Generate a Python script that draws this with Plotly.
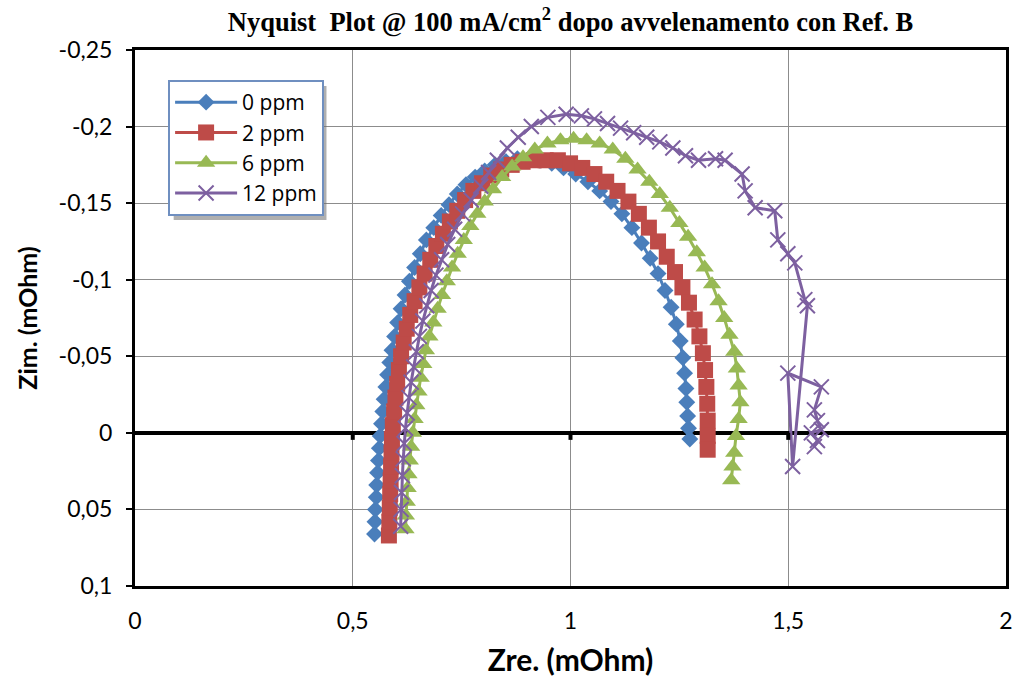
import plotly.graph_objects as go

# ---------------- data (Zre, Zim in mOhm) ----------------
zre_0ppm = [0.550, 0.551, 0.552, 0.554, 0.555, 0.557, 0.559, 0.561, 0.563, 0.566,
            0.569, 0.572, 0.576, 0.580, 0.585, 0.590, 0.596, 0.603, 0.611, 0.620,
            0.630, 0.642, 0.655, 0.669, 0.686, 0.703, 0.721, 0.740, 0.760, 0.781,
            0.803, 0.827, 0.852, 0.878, 0.904, 0.930, 0.957, 0.984, 1.012, 1.040,
            1.067, 1.093, 1.118, 1.141, 1.163, 1.183, 1.201, 1.217, 1.231, 1.243,
            1.252, 1.258, 1.262, 1.265, 1.267, 1.269, 1.271, 1.274]
zim_0ppm = [0.066, 0.058, 0.050, 0.042, 0.034, 0.026, 0.018, 0.010, 0.002, -0.006,
            -0.014, -0.022, -0.030, -0.038, -0.046, -0.054, -0.063, -0.072, -0.081, -0.090,
            -0.099, -0.108, -0.117, -0.126, -0.134, -0.142, -0.149, -0.156, -0.162, -0.167,
            -0.171, -0.175, -0.177, -0.179, -0.179, -0.178, -0.176, -0.173, -0.169, -0.164,
            -0.158, -0.151, -0.143, -0.134, -0.124, -0.114, -0.104, -0.093, -0.082, -0.071,
            -0.060, -0.049, -0.039, -0.029, -0.020, -0.011, -0.003, 0.004]

zre_2ppm = [0.583, 0.584, 0.585, 0.586, 0.587, 0.588, 0.589, 0.590, 0.592, 0.595,
            0.598, 0.602, 0.606, 0.611, 0.617, 0.624, 0.632, 0.642, 0.653, 0.665,
            0.678, 0.692, 0.707, 0.723, 0.740, 0.758, 0.777, 0.797, 0.818, 0.841,
            0.865, 0.890, 0.916, 0.943, 0.971, 0.999, 1.027, 1.055, 1.082, 1.108,
            1.133, 1.157, 1.180, 1.201, 1.221, 1.240, 1.257, 1.272, 1.285, 1.296,
            1.304, 1.309, 1.312, 1.314, 1.315, 1.315, 1.315]
zim_2ppm = [0.067, 0.058, 0.049, 0.040, 0.031, 0.022, 0.013, 0.004, -0.005, -0.014,
            -0.023, -0.032, -0.041, -0.050, -0.059, -0.068, -0.077, -0.086, -0.095, -0.104,
            -0.113, -0.122, -0.130, -0.138, -0.145, -0.152, -0.158, -0.163, -0.168, -0.172,
            -0.175, -0.177, -0.178, -0.178, -0.178, -0.176, -0.173, -0.169, -0.164, -0.158,
            -0.151, -0.143, -0.134, -0.125, -0.115, -0.105, -0.095, -0.085, -0.074, -0.063,
            -0.052, -0.041, -0.030, -0.019, -0.008, 0.002, 0.011]

zre_6ppm = [0.621, 0.622, 0.624, 0.626, 0.628, 0.631, 0.634, 0.638, 0.642, 0.646,
            0.651, 0.656, 0.662, 0.668, 0.676, 0.685, 0.695, 0.705, 0.716, 0.728,
            0.741, 0.755, 0.770, 0.786, 0.803, 0.822, 0.843, 0.866, 0.891, 0.918,
            0.947, 0.977, 1.007, 1.037, 1.067, 1.097, 1.126, 1.154, 1.181, 1.205,
            1.228, 1.250, 1.270, 1.290, 1.308, 1.325, 1.340, 1.353, 1.365, 1.376,
            1.382, 1.386, 1.390, 1.386, 1.380, 1.376, 1.372, 1.369]
zim_6ppm = [0.063, 0.054, 0.045, 0.036, 0.027, 0.018, 0.009, 0.000, -0.009, -0.018,
            -0.027, -0.036, -0.045, -0.054, -0.063, -0.072, -0.081, -0.090, -0.099, -0.108,
            -0.117, -0.126, -0.135, -0.143, -0.151, -0.159, -0.167, -0.174, -0.180, -0.185,
            -0.189, -0.191, -0.192, -0.191, -0.189, -0.185, -0.179, -0.172, -0.164, -0.156,
            -0.147, -0.137, -0.128, -0.118, -0.108, -0.097, -0.086, -0.075, -0.064, -0.053,
            -0.042, -0.031, -0.020, -0.009, 0.002, 0.013, 0.022, 0.031]

zre_12ppm = [0.610, 0.611, 0.612, 0.614, 0.616, 0.618, 0.621, 0.625, 0.629, 0.634,
             0.640, 0.646, 0.653, 0.661, 0.670, 0.680, 0.691, 0.704, 0.718, 0.734,
             0.752, 0.772, 0.794, 0.812, 0.832, 0.855, 0.880, 0.910, 0.948, 0.990,
             1.025, 1.055, 1.085, 1.115, 1.145, 1.175, 1.205, 1.235, 1.264, 1.294,
             1.333, 1.355, 1.394, 1.401, 1.424, 1.469, 1.476, 1.499, 1.515, 1.538,
             1.544, 1.510, 1.499, 1.576, 1.560, 1.567, 1.576, 1.553, 1.567, 1.560]
zim_12ppm = [0.061, 0.050, 0.039, 0.028, 0.017, 0.007, -0.003, -0.013, -0.023, -0.033,
             -0.043, -0.053, -0.063, -0.073, -0.083, -0.093, -0.103, -0.113, -0.123, -0.133,
             -0.143, -0.152, -0.161, -0.170, -0.178, -0.186, -0.193, -0.200, -0.206, -0.208,
             -0.207, -0.205, -0.202, -0.199, -0.196, -0.193, -0.190, -0.186, -0.181, -0.178,
             -0.179, -0.178, -0.169, -0.158, -0.147, -0.145, -0.126, -0.117, -0.111, -0.087,
             -0.083, 0.022, -0.039, -0.030, -0.015, -0.008, -0.002, 0.000, 0.005, 0.009]

series_names = ["0 ppm", "2 ppm", "6 ppm", "12 ppm"]
series_colors = ["#4A7EBB", "#BE4B48", "#98B954", "#7D60A0"]

x_tickvals = [0, 0.5, 1, 1.5, 2]
x_ticktext = ["0", "0,5", "1", "1,5", "2"]
y_tickvals = [-0.25, -0.2, -0.15, -0.1, -0.05, 0, 0.05, 0.1]
y_ticktext = ["-0,25", "-0,2", "-0,15", "-0,1", "-0,05", "0", "0,05", "0,1"]

title_text = "Nyquist  Plot @ 100 mA/cm<sup>2</sup> dopo avvelenamento con Ref. B"
x_title = "Zre. (mOhm)"
y_title = "Zim. (mOhm)"

# ---------------- figure ----------------
fig = go.Figure()
xs = [zre_0ppm, zre_2ppm, zre_6ppm, zre_12ppm]
ys = [zim_0ppm, zim_2ppm, zim_6ppm, zim_12ppm]
markers = [
    dict(symbol="diamond", size=13),
    dict(symbol="square", size=16),
    dict(symbol="triangle-up", size=16),
    dict(symbol="x-thin", size=15),
]
for x, y, name, col, mk in zip(xs, ys, series_names, series_colors, markers):
    m = dict(mk)
    m["color"] = col
    if m["symbol"] == "x-thin":
        m["line"] = dict(width=2, color=col)
    fig.add_trace(go.Scatter(x=x, y=y, name=name, mode="lines+markers",
                             line=dict(color=col, width=3), marker=m))

font_main = "Lato, 'Open Sans', sans-serif"

fig.update_layout(
    width=1022, height=682,
    margin=dict(l=135, r=9, t=50, b=96),
    paper_bgcolor="white", plot_bgcolor="white",
    font=dict(family=font_main, size=22, color="black"),
    title=dict(text=title_text, xref="paper", x=0.5, xanchor="center",
               y=0.968, yanchor="middle",
               font=dict(family="'Liberation Serif', 'Times New Roman', serif",
                         size=26.5, color="black", weight="bold")),
    showlegend=True,
    legend=dict(x=0.038, y=0.944, xanchor="left", yanchor="top",
                bgcolor="white", bordercolor="#6F8FC0", borderwidth=2,
                font=dict(family="'Open Sans', Lato, sans-serif", size=21, color="black"),
                tracegroupgap=0, itemwidth=62),
)

# legend drop shadow (decoration, drawn beneath the legend box)
fig.add_shape(type="rect", xref="paper", yref="paper",
              x0=(174 - 135) / 878, x1=(328 - 135) / 878,
              y0=(586 - 220) / 536, y1=(586 - 86) / 536,
              fillcolor="rgba(110,110,110,0.55)", line=dict(width=0), layer="above")

fig.update_xaxes(
    range=[0, 2], tickvals=x_tickvals, ticktext=x_ticktext,
    showgrid=True, gridcolor="#8C8C8C", gridwidth=1,
    showline=True, linecolor="black", linewidth=3, mirror=True,
    ticks="", zeroline=False, ticklabelstandoff=12,
    tickfont=dict(size=23),
    title=dict(text="<b>" + x_title + "</b>", font=dict(size=30), standoff=18),
)
fig.update_yaxes(
    range=[0.1, -0.25], tickvals=y_tickvals, ticktext=y_ticktext,
    showgrid=True, gridcolor="#8C8C8C", gridwidth=1,
    showline=True, linecolor="black", linewidth=3, mirror=True,
    ticks="outside", ticklen=6, tickwidth=2, tickcolor="black",
    zeroline=True, zerolinecolor="black", zerolinewidth=4,
    ticklabelstandoff=9, tickfont=dict(size=23),
    title=dict(text="<b>" + y_title + "</b>", font=dict(size=25), standoff=14),
)

# small tick marks on the zero line (axis crossing at 0)
for tv in x_tickvals[1:-1]:
    fig.add_shape(type="line", xref="x", yref="y", x0=tv, x1=tv,
                  ysizemode="pixel", yanchor=0, y0=0, y1=-7,
                  line=dict(color="black", width=4))

fig.write_html("out.html")
